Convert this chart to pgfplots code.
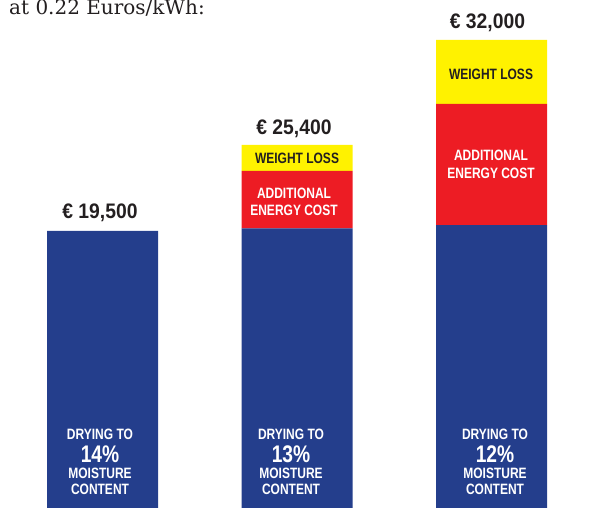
\documentclass[border=0pt]{standalone}
\usepackage{fontspec}
\usepackage{pgfplots}
\pgfplotsset{compat=1.18}
\setmainfont{DejaVu Serif}
\newfontfamily\cond[FakeStretch=0.8]{Liberation Sans}
\newfontfamily\condT[FakeStretch=0.92]{Liberation Sans}
\definecolor{myblue}{RGB}{36,62,140}
\definecolor{myred}{RGB}{237,28,36}
\definecolor{myyellow}{RGB}{255,242,0}
\definecolor{ink}{RGB}{35,31,32}
\begin{document}
\begin{tikzpicture}[x=1pt,y=1pt]
\path[use as bounding box] (0,0) rectangle (594,508);
\clip (0,0) rectangle (594,508);
\begin{axis}[at={(0,0)}, anchor=south west, scale only axis,
  width=594pt, height=508pt,
  xmin=-0.527, xmax=2.527, ymin=0, ymax=35760,
  axis lines=none, ybar stacked, bar width=111pt,
  clip=false]
\addplot[fill=myblue, draw=none] coordinates {(0,19500) (1,19680) (2,19920)};
\addplot[fill=myred, draw=none] coordinates {(0,0) (1,4050) (2,8520)};
\addplot[fill=myyellow, draw=none] coordinates {(0,0) (1,1830) (2,4510)};
\end{axis}
% title fragment
\node[anchor=base west, inner sep=0, text=ink, font=\fontsize{20}{20}\selectfont] at (9,{508-15}) {at 0.22 Euros/kWh:};
% totals
\tikzset{tot/.style={inner sep=0, text=ink, font=\condT\bfseries\fontsize{21}{21}\selectfont},
  wl/.style={inner sep=0, font=\cond\bfseries\fontsize{15}{15}\selectfont},
  big/.style={inner sep=0, text=white, font=\cond\bfseries\fontsize{24}{24}\selectfont}}
\node[tot] at (100,{508-213}) {€ 19,500};
\node[tot] at (294,{508-129}) {€ 25,400};
\node[tot] at (487.5,{508-23}) {€ 32,000};
% yellow
\node[wl, text=ink] at (297,{508-158}) {WEIGHT LOSS};
\node[wl, text=ink] at (491,{508-74}) {WEIGHT LOSS};
% red
\node[wl, text=white] at (294,{508-193}) {ADDITIONAL};
\node[wl, text=white] at (294,{508-210}) {ENERGY COST};
\node[wl, text=white] at (491,{508-155}) {ADDITIONAL};
\node[wl, text=white] at (491,{508-173}) {ENERGY COST};
% blue
\foreach \xc/\pc in {100/14, 291/13, 495/12}{
  \node[wl, text=white] at (\xc,{508-434}) {DRYING TO};
  \node[big, anchor=base] at (\xc,{508-463}) {\pc\%};
  \node[wl, text=white] at (\xc,{508-473.5}) {MOISTURE};
  \node[wl, text=white] at (\xc,{508-489.5}) {CONTENT};
}
\end{tikzpicture}
\end{document}
